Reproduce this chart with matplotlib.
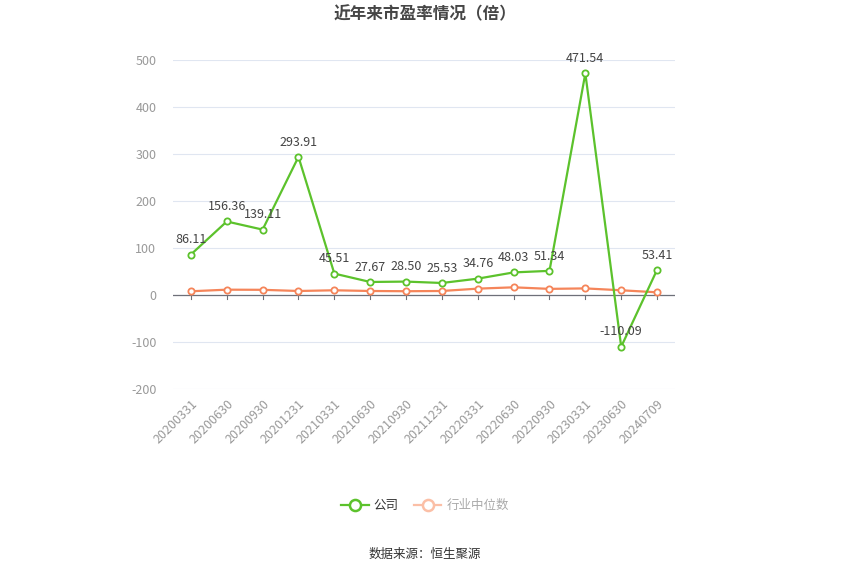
import numpy as np
import matplotlib.pyplot as plt
from matplotlib.lines import Line2D

plt.rcParams['font.family'] = ['Noto Sans CJK SC', 'DejaVu Sans']
plt.rcParams['axes.unicode_minus'] = False

dates = ["20200331", "20200630", "20200930", "20201231", "20210331", "20210630",
         "20210930", "20211231", "20220331", "20220630", "20220930", "20230331",
         "20230630", "20240709"]
company_pe = [86.11, 156.36, 139.11, 293.91, 45.51, 27.67, 28.50, 25.53, 34.76,
              48.03, 51.34, 471.54, -110.09, 53.41]
industry_pe = [7.9, 11.3, 11.0, 8.5, 10.0, 8.5, 8.0, 8.5, 13.5, 16.3, 13.0, 14.0, 10.0, 5.7]

green = '#5cc22c'
orange = '#f5855a'

fig = plt.figure(figsize=(8.5, 5.75), dpi=100)
ax = fig.add_axes([0.2035, 0.3235, 0.5906, 0.5722])

x = np.arange(len(dates))
ax.plot(x, industry_pe, color=orange, lw=1.6, marker='o', ms=4.5,
        mfc='white', mec=orange, mew=1.3, zorder=3)
ax.plot(x, company_pe, color=green, lw=1.6, marker='o', ms=4.5,
        mfc='white', mec=green, mew=1.3, zorder=4)

for xi, v in zip(x, company_pe):
    ax.annotate(f"{v:.2f}", (xi, v), xytext=(0, 6), textcoords='offset points',
                ha='center', va='bottom', fontsize=9, color='#444444', zorder=5)

ax.set_xlim(-0.5, len(dates) - 0.5)
ax.set_ylim(-200, 500)
ax.set_yticks(range(-200, 501, 100))
ax.yaxis.grid(True, color='#e0e6f1', lw=0.8)
ax.set_axisbelow(True)
for s in ax.spines.values():
    s.set_visible(False)
ax.axhline(0, color='#6e7079', lw=0.9, zorder=2)

ax.set_xticks(x)
ax.set_xticklabels(dates, rotation=45, ha='right', rotation_mode='anchor',
                   fontsize=9, color='#999999')
ax.tick_params(axis='x', length=0, pad=6)
ax.tick_params(axis='y', length=0, labelsize=9, labelcolor='#999999', pad=12)
# 零线下方的小刻度
for xi in x:
    ax.plot([xi, xi], [0, -9], color='#6e7079', lw=0.8, zorder=2, clip_on=False)

fig.text(0.5, 0.975, "近年来市盈率情况（倍）", ha='center', va='center',
         fontsize=12, fontweight='bold', color='#464646')

handles = [Line2D([0], [0], color=green, lw=1.6, marker='o', ms=8, mfc='white', mec=green, mew=1.8),
           Line2D([0], [0], color='#fbbfa6', lw=1.6, marker='o', ms=8, mfc='white', mec='#fbbfa6', mew=1.8)]
leg = fig.legend(handles, ["公司", "行业中位数"], loc='center', bbox_to_anchor=(0.5, 0.121),
                 ncol=2, frameon=False, fontsize=9, handlelength=2.2, columnspacing=1.2,
                 handletextpad=0.4)
leg.get_texts()[0].set_color('#333333')
leg.get_texts()[1].set_color('#aaaaaa')

fig.text(0.5, 0.036, "数据来源：恒生聚源", ha='center', va='center', fontsize=9, color='#333333')

fig.savefig('out.png', dpi=100)
